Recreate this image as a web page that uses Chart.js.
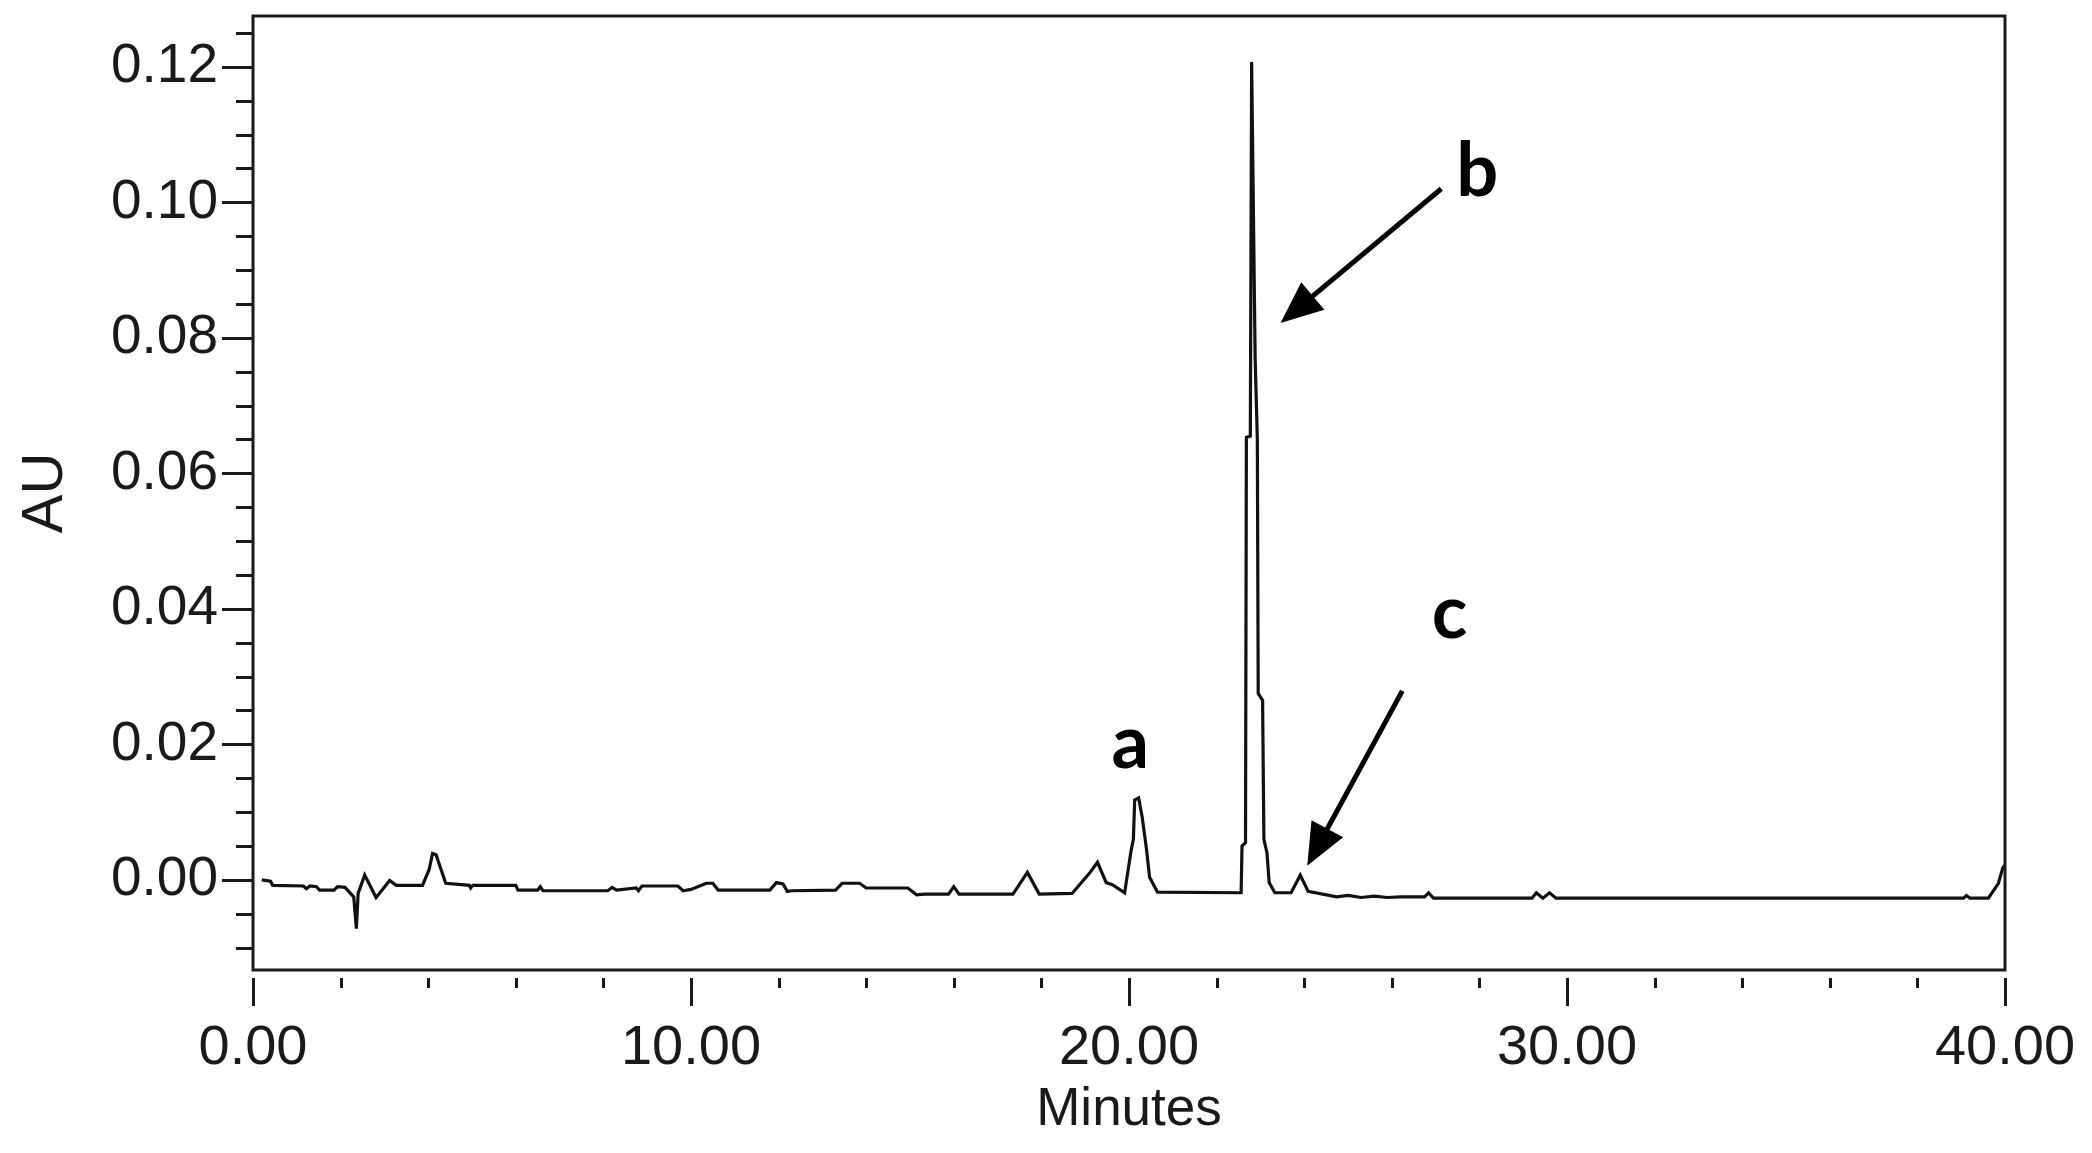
<!DOCTYPE html>
<html>
<head>
<meta charset="utf-8">
<title>Chromatogram</title>
<script src="https://cdn.jsdelivr.net/npm/chart.js@4.4.1/dist/chart.umd.min.js"></script>
<style>
  html, body { margin: 0; padding: 0; background: #fff; }
  #chart { display: block; }
</style>
</head>
<body>
<canvas id="chart" width="2092" height="1153" style="width:2092px;height:1153px"></canvas>
<script>
// Retention time (minutes) and detector response (AU)
const times = [
  0.20, 0.40, 0.45, 1.15, 1.22, 1.30, 1.45, 1.52, 1.85, 1.93,
  2.10, 2.20, 2.30, 2.36, 2.40, 2.55, 2.81, 3.12, 3.27, 3.87,
  4.02, 4.10, 4.18, 4.28, 4.40, 4.94, 4.97, 5.02, 6.00, 6.05,
  6.50, 6.56, 6.62, 8.10, 8.20, 8.30, 8.75, 8.80, 8.88, 9.70,
  9.82, 10.00, 10.35, 10.50, 10.62, 11.80, 11.95, 12.10, 12.20, 12.30,
  13.30, 13.45, 13.85, 14.00, 14.95, 15.15, 15.33, 15.88, 16.00, 16.12,
  17.35, 17.68, 17.95, 18.70, 19.10, 19.28, 19.48, 19.62, 19.90, 20.05,
  20.10, 20.13, 20.22, 20.30, 20.40, 20.47, 20.65, 22.56, 22.58, 22.66,
  22.68, 22.77, 22.80, 22.88, 22.93, 22.95, 23.05, 23.08, 23.15, 23.20,
  23.33, 23.70, 23.91, 24.09, 24.74, 25.00, 25.30, 25.60, 25.90, 26.20,
  26.75, 26.84, 26.95, 29.20, 29.30, 29.45, 29.60, 29.75, 39.05, 39.12,
  39.20, 39.62, 39.85, 39.95, 40.00
];
const absorbance = [
  0.0000, -0.0002, -0.0008, -0.0009, -0.0013, -0.0009, -0.0010, -0.0015, -0.0015, -0.0010,
  -0.0011, -0.0018, -0.0025, -0.0072, -0.0020, 0.0007, -0.0026, -0.0001, -0.0008, -0.0008,
  0.0015, 0.0039, 0.0037, 0.0018, -0.0005, -0.0008, -0.0012, -0.0008, -0.0008, -0.0015,
  -0.0015, -0.0010, -0.0016, -0.0016, -0.0011, -0.0015, -0.0012, -0.0016, -0.0009, -0.0009,
  -0.0016, -0.0014, -0.0005, -0.0005, -0.0015, -0.0015, -0.0004, -0.0006, -0.0017, -0.0016,
  -0.0015, -0.0005, -0.0005, -0.0012, -0.0012, -0.0022, -0.0021, -0.0021, -0.0010, -0.0021,
  -0.0021, 0.0011, -0.0021, -0.0020, 0.0010, 0.0026, -0.0004, -0.0007, -0.0019, 0.0044,
  0.0060, 0.0118, 0.0121, 0.0093, 0.0045, 0.0004, -0.0018, -0.0019, 0.0050, 0.0055,
  0.0653, 0.0655, 0.1207, 0.0770, 0.0650, 0.0275, 0.0265, 0.0060, 0.0040, -0.0004,
  -0.0019, -0.0019, 0.0007, -0.0017, -0.0025, -0.0023, -0.0026, -0.0024, -0.0026, -0.0025,
  -0.0025, -0.0019, -0.0027, -0.0027, -0.0019, -0.0027, -0.0019, -0.0027, -0.0027, -0.0023,
  -0.0027, -0.0027, -0.0005, 0.0018, 0.0022
];

// Axis ticks
const xMajor = [0, 10, 20, 30, 40];
const xTickLabels = ['0.00', '10.00', '20.00', '30.00', '40.00'];
const yMajor = [0, 0.02, 0.04, 0.06, 0.08, 0.10, 0.12];
const yTickLabels = ['0.00', '0.02', '0.04', '0.06', '0.08', '0.10', '0.12'];
const xMinorStep = 2;
const yMinorStep = 0.005;

// Peak annotations (label anchor and arrow tail -> tip, in data units)
const peakNames = ['a', 'b', 'c'];
const peakLabelAt = [[20.03, 0.0165], [27.95, 0.1010], [27.32, 0.0357]];
const peakArrows = [null, [27.13, 0.1020, 23.46, 0.0822], [26.24, 0.0279, 24.07, 0.0021]];

const INK = '#1a1a1a';
const FONT = "'Liberation Sans', Arial, sans-serif";

// box, outward tick marks, arrows and peak letters
const framePlugin = {
  id: 'frame',
  afterDraw(chart) {
    const { ctx, chartArea: area } = chart;
    const xs = chart.scales.x;
    const ys = chart.scales.y;
    ctx.save();
    ctx.strokeStyle = INK;
    ctx.lineWidth = 3;
    ctx.strokeRect(area.left, area.top, area.right - area.left, area.bottom - area.top);

    // y ticks sit on the axis line
    for (let k = -2; k <= 25; k++) {
      const v = k * yMinorStep;
      if (v < ys.min || v > ys.max) continue;
      const py = Math.round(ys.getPixelForValue(v)) + 0.5;
      const len = (k % 4 === 0) ? 31 : 17;
      ctx.beginPath();
      ctx.moveTo(area.left, py);
      ctx.lineTo(area.left - len, py);
      ctx.stroke();
    }
    // x ticks hang a little below the axis line
    for (let m = 0; m <= 40; m += xMinorStep) {
      const px = Math.round(xs.getPixelForValue(m)) + 0.5;
      const len = (m % 10 === 0) ? 28 : 10;
      ctx.beginPath();
      ctx.moveTo(px, area.bottom + 8);
      ctx.lineTo(px, area.bottom + 8 + len);
      ctx.stroke();
    }

    // arrows
    ctx.fillStyle = '#000';
    ctx.strokeStyle = '#000';
    peakArrows.forEach((a) => {
      if (!a) return;
      const x0 = xs.getPixelForValue(a[0]), y0 = ys.getPixelForValue(a[1]);
      const x1 = xs.getPixelForValue(a[2]), y1 = ys.getPixelForValue(a[3]);
      const ang = Math.atan2(y1 - y0, x1 - x0);
      const head = 42, half = 18;
      const bx = x1 - head * Math.cos(ang), by = y1 - head * Math.sin(ang);
      ctx.lineWidth = 5;
      ctx.beginPath();
      ctx.moveTo(x0, y0);
      ctx.lineTo(bx + 6 * Math.cos(ang), by + 6 * Math.sin(ang));
      ctx.stroke();
      ctx.beginPath();
      ctx.moveTo(x1, y1);
      ctx.lineTo(bx + half * Math.sin(ang), by - half * Math.cos(ang));
      ctx.lineTo(bx - half * Math.sin(ang), by + half * Math.cos(ang));
      ctx.closePath();
      ctx.fill();
    });

    // peak letters
    ctx.font = "bold 74px Lato, 'Open Sans', sans-serif";
    ctx.textAlign = 'center';
    ctx.textBaseline = 'alphabetic';
    peakNames.forEach((name, i) => {
      const p = peakLabelAt[i];
      ctx.fillText(name, xs.getPixelForValue(p[0]), ys.getPixelForValue(p[1]));
    });
    ctx.restore();
  }
};

const ctx = document.getElementById('chart').getContext('2d');
new Chart(ctx, {
  type: 'line',
  data: {
    datasets: [{
      data: times.map((t, i) => ({ x: t, y: absorbance[i] })),
      borderColor: '#111',
      borderWidth: 3.2,
      pointRadius: 0,
      tension: 0,
      fill: false
    }]
  },
  options: {
    responsive: false,
    animation: false,
    layout: { padding: { top: 16, right: 87, left: 0, bottom: 0 } },
    plugins: { legend: { display: false }, tooltip: { enabled: false } },
    scales: {
      x: {
        type: 'linear',
        min: 0,
        max: 40,
        grid: { display: false },
        border: { display: false },
        afterBuildTicks: (s) => { s.ticks = xMajor.map((v) => ({ value: v })); },
        ticks: {
          padding: 37,
          maxRotation: 0,
          autoSkip: false,
          color: INK,
          font: { family: FONT, size: 56 },
          callback: (v, i) => xTickLabels[i]
        },
        title: {
          display: true,
          text: 'Minutes',
          color: INK,
          font: { family: FONT, size: 53 },
          padding: { top: 0, bottom: 11 }
        },
        afterFit: (s) => { s.height = 183; s.paddingLeft = 0; s.paddingRight = 0; }
      },
      y: {
        type: 'linear',
        min: -0.0133,
        max: 0.1275,
        grid: { display: false },
        border: { display: false },
        afterBuildTicks: (s) => { s.ticks = yMajor.map((v) => ({ value: v })); },
        ticks: {
          padding: 27,
          color: INK,
          font: { family: FONT, size: 55 },
          callback: (v, i) => yTickLabels[i]
        },
        title: {
          display: true,
          text: 'AU',
          color: INK,
          font: { family: FONT, size: 58 },
          padding: { top: 11, bottom: 0 }
        },
        afterFit: (s) => { s.width = 253; s.paddingTop = 0; s.paddingBottom = 0; }
      }
    }
  },
  plugins: [framePlugin]
});
</script>
</body>
</html>
